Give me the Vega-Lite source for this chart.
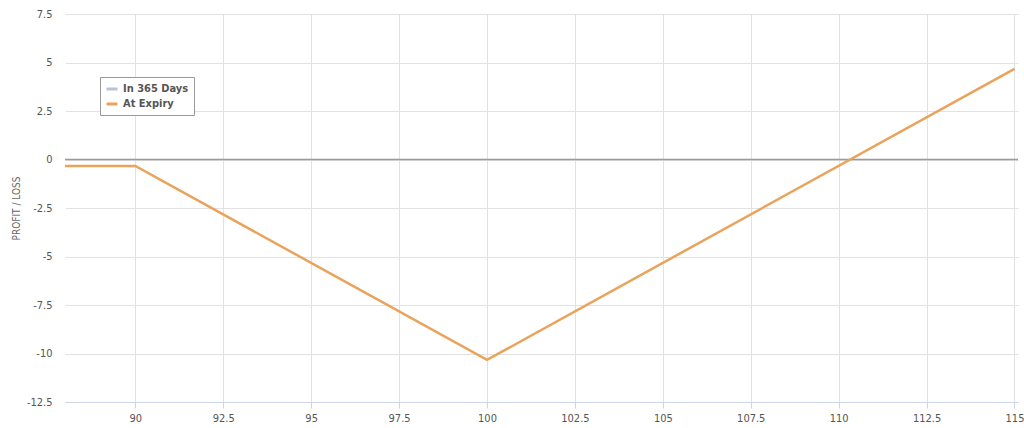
{
  "$schema": "https://vega.github.io/schema/vega-lite/v6.json",
  "autosize": "none",
  "width": 953,
  "height": 388,
  "padding": {"left": 65, "top": 14, "right": 6, "bottom": 26},
  "background": "white",
  "config": {
    "font": "Liberation Sans Narrow, DejaVu Sans Condensed, sans-serif",
    "view": {"stroke": null},
    "axis": {"gridColor": "#e2e2e2", "gridWidth": 1, "labelColor": "#555555", "labelFontSize": 11, "titleColor": "#666666"}
  },
  "datasets": {
    "pl": [
      {"price": 88, "pl": -0.33, "series": "At Expiry"},
      {"price": 90, "pl": -0.33, "series": "At Expiry"},
      {"price": 100, "pl": -10.33, "series": "At Expiry"},
      {"price": 115, "pl": 4.67, "series": "At Expiry"}
    ],
    "zero": [{"y": 0}]
  },
  "layer": [
    {
      "data": {"name": "zero"},
      "mark": {"type": "rule", "color": "#999999", "strokeWidth": 1.5},
      "encoding": {"y": {"field": "y", "type": "quantitative", "scale": {"domain": [-12.5, 7.5]}}}
    },
    {
      "data": {"name": "pl"},
      "mark": {"type": "line", "strokeWidth": 2.5, "clip": true},
      "encoding": {
        "x": {
          "field": "price", "type": "quantitative",
          "scale": {"domain": [88, 115.1], "nice": false, "zero": false},
          "axis": {
            "title": null,
            "values": [90, 92.5, 95, 97.5, 100, 102.5, 105, 107.5, 110, 112.5, 115],
            "labelExpr": "datum.value + ''",
            "domainColor": "#ccd6eb",
            "tickColor": "#ccd6eb",
            "tickSize": 6,
            "labelPadding": 4,
            "gridColor": "#e2e2e2"
          }
        },
        "y": {
          "field": "pl", "type": "quantitative",
          "scale": {"domain": [-12.5, 7.5], "nice": false, "zero": false},
          "axis": {
            "title": "PROFIT / LOSS",
            "titleFontSize": 10,
            "titleFontWeight": "normal",
            "titlePadding": 5,
            "values": [-12.5, -10, -7.5, -5, -2.5, 0, 2.5, 5, 7.5],
            "labelExpr": "datum.value + ''",
            "domain": false,
            "ticks": false,
            "labelPadding": 13
          }
        },
        "color": {
          "field": "series", "type": "nominal",
          "scale": {"domain": ["In 365 Days", "At Expiry"], "range": ["#b9c3d6", "#e9a35b"]},
          "legend": {
            "title": null,
            "orient": "none",
            "legendX": 35,
            "legendY": 63,
            "symbolType": "stroke",
            "symbolStrokeWidth": 3,
            "symbolSize": 120,
            "labelFontSize": 11,
            "labelFontWeight": "bold",
            "labelColor": "#555555",
            "labelOffset": 4,
            "strokeColor": "#999999",
            "fillColor": "white",
            "padding": 5,
            "rowPadding": 2
          }
        }
      }
    }
  ]
}
